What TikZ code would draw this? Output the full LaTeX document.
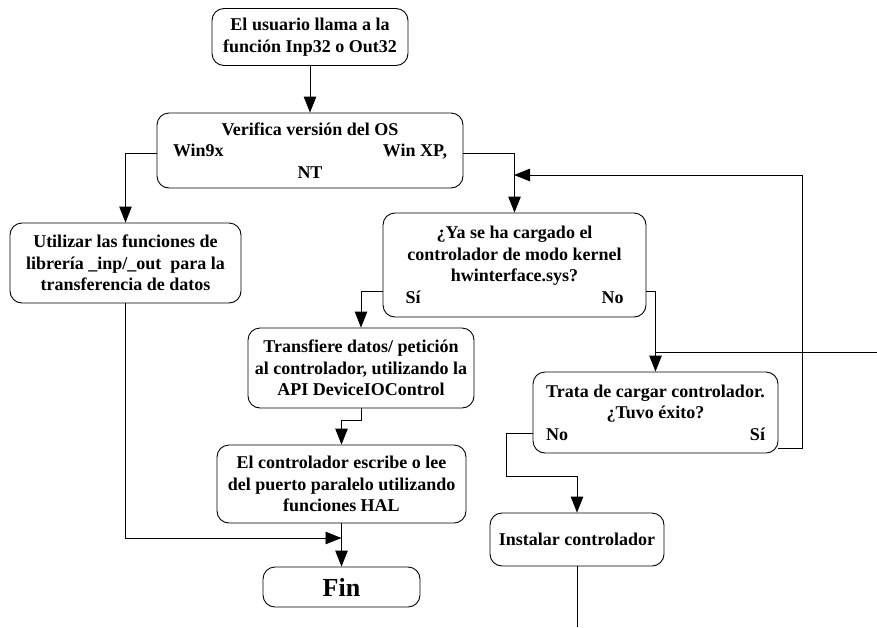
\documentclass[tikz,border=0pt]{standalone}
\usepackage{fontspec}
\setmainfont{Liberation Serif}
\usetikzlibrary{arrows.meta}

\begin{document}
\begin{tikzpicture}[
  x=1pt, y=-1pt,
  caja/.style={rectangle, rounded corners=12pt, draw, line width=0.9pt,
               align=center, inner sep=0pt,
               font=\fontsize{18}{21.5}\selectfont\bfseries},
  flecha/.style={line width=0.9pt, -{Triangle[length=16pt, width=12.5pt]}},
  linea/.style={line width=0.9pt},
]
\useasboundingbox (0,0) rectangle (877,627);
% ---- cajas ----
\node[caja, minimum width=196pt, minimum height=57pt] (inicio) at (310,37)
  {El usuario llama a la\\función Inp32 o Out32};
\node[caja, minimum width=306pt, minimum height=75pt] (verif) at (310,150.5)
  {Verifica versión del OS\\\makebox[274pt]{Win9x\hfill Win XP,}\\NT};
\node[caja, minimum width=231pt, minimum height=80pt] (utilizar) at (125.5,263)
  {Utilizar las funciones de\\librería \_inp/\_out\ \ para la\\transferencia de datos};
\node[caja, minimum width=263pt, minimum height=104pt] (yacarg) at (514.5,265)
  {¿Ya se ha cargado el\\controlador de modo kernel\\hwinterface.sys?\\\makebox[218pt]{Sí\hfill No}};
\node[caja, minimum width=226pt, minimum height=80pt] (transf) at (361,368)
  {Transfiere datos/ petición\\al controlador, utilizando la\\API DeviceIOControl};
\node[caja, minimum width=249pt, minimum height=78pt] (escribe) at (341.5,484)
  {El controlador escribe o lee\\del puerto paralelo utilizando\\funciones HAL};
\node[caja, minimum width=157pt, minimum height=40pt,
      font=\fontsize{26}{30}\selectfont\bfseries] (fin) at (341.5,587) {Fin};
\node[caja, minimum width=245pt, minimum height=81pt] (trata) at (655.5,412.5)
  {Trata de cargar controlador.\\¿Tuvo éxito?\\\makebox[219pt]{No\hfill Sí}};
\node[caja, minimum width=174pt, minimum height=53pt] (instalar) at (577,539.5)
  {Instalar controlador};
% ---- puntos de paso ----
\coordinate (union) at (514,175);
\coordinate (vuelta) at (802,448);
\coordinate (entrada) at (877,352);
\coordinate (cruce) at (341.5,538);
\coordinate (codo) at (506,476);
\coordinate (salida) at (577,627);
% ---- conectores ----
\draw[flecha] (inicio.south) -- (verif.north);
\draw[flecha] ([yshift=-2.5pt]verif.west) -| (utilizar.north);
\draw[flecha] ([yshift=-2.5pt]verif.east) -| (yacarg.north);
\draw[flecha] ([yshift=-35.5pt]trata.east) -| (vuelta) |- (union);
\draw[flecha] ([yshift=-26pt]yacarg.west) -| (transf.north);
\draw[flecha] ([yshift=-26pt]yacarg.east) -| (trata.north);
\draw[linea] (entrada) -- (trata.north |- entrada);
\draw[flecha] (transf.south) |- ([yshift=24pt]escribe.north) -- (escribe.north);
\draw[flecha] (escribe.south) -- (fin.north);
\draw[flecha] (utilizar.south) |- (cruce);
\draw[flecha] ([yshift=-20.5pt]trata.west) -| (codo) -| (instalar.north);
\draw[linea] (instalar.south) -- (salida);
\end{tikzpicture}
\end{document}
